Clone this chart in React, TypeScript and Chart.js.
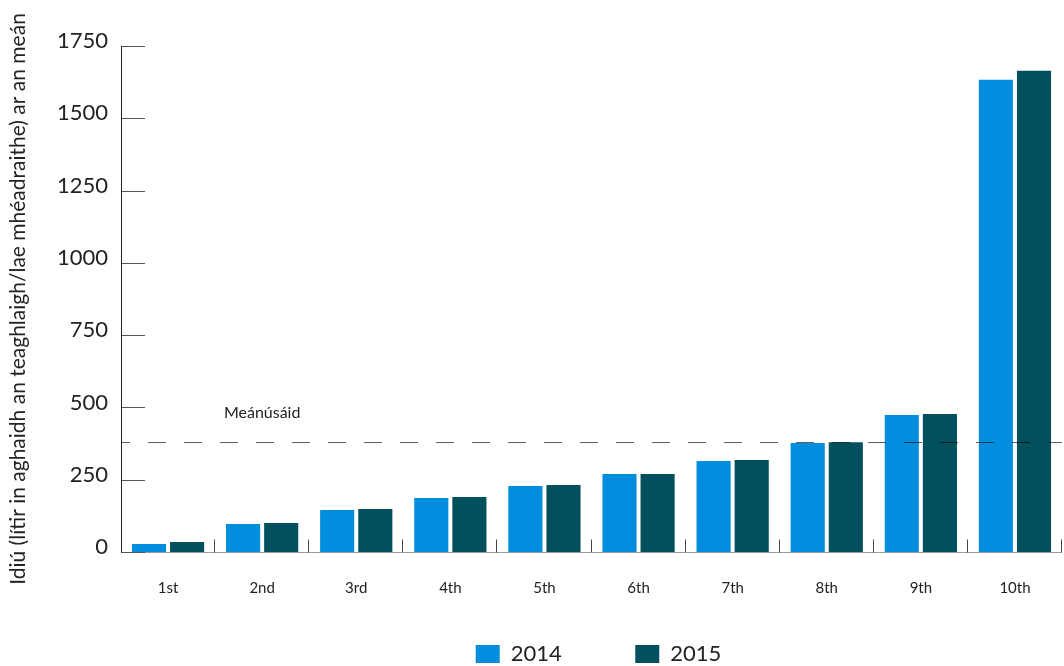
import React, { useEffect, useRef } from "react";
import { Chart, registerables } from "chart.js";

Chart.register(...registerables);

const categories = ["1st", "2nd", "3rd", "4th", "5th", "6th", "7th", "8th", "9th", "10th"];
const values2014 = [28, 97, 145, 187, 228, 270, 315, 377, 474, 1633];
const values2015 = [35, 100, 149, 190, 232, 270, 318, 380, 477, 1664];
const seriesNames = ["2014", "2015"];
const meanUsage = 380;
const meanLabel = "Meánúsáid";
const yTicks = [0, 250, 500, 750, 1000, 1250, 1500, 1750];
const yTitle = "Idiú (lítir in aghaidh an teaghlaigh/lae mhéadraithe) ar an meán";

const FONT = "Lato, 'Open Sans', sans-serif";

const axisPlugin = {
  id: "customAxes",
  afterLayout(chart: any) {
    const lg = chart.legend;
    if (!lg) return;
    lg.top = chart.chartArea.bottom + 17.5;
    lg.bottom = chart.height;
    lg.height = lg.bottom - lg.top;
    lg.left += 7;
    lg.right += 7;
  },
  afterDatasetsDraw(chart: any) {
    const { ctx, chartArea } = chart;
    const x = chart.scales.x;
    const y = chart.scales.y;
    ctx.save();
    // mean dashed line
    const my = Math.round(y.getPixelForValue(meanUsage)) + 0.5;
    ctx.strokeStyle = "rgba(0,0,0,0.62)";
    ctx.lineWidth = 1;
    ctx.setLineDash([18, 18]);
    ctx.lineDashOffset = 9;
    ctx.beginPath();
    ctx.moveTo(chartArea.left, my);
    ctx.lineTo(chartArea.right, my);
    ctx.stroke();
    ctx.setLineDash([]);
    ctx.fillStyle = "#222";
    ctx.font = "16px " + FONT;
    ctx.textAlign = "center";
    ctx.textBaseline = "middle";
    ctx.fillText(meanLabel, x.getPixelForValue(1), my - 30);

    // x axis line
    const by = Math.round(chartArea.bottom) + 0.5;
    ctx.strokeStyle = "#9a9a9a";
    ctx.lineWidth = 1;
    ctx.beginPath();
    ctx.moveTo(chartArea.left, by);
    ctx.lineTo(chartArea.right, by);
    ctx.stroke();
    // x ticks at category boundaries
    ctx.strokeStyle = "#444";
    const n = categories.length;
    const step = (chartArea.right - chartArea.left) / n;
    for (let i = 1; i <= n; i++) {
      const px = Math.round(chartArea.left + i * step) - 0.5;
      ctx.beginPath();
      ctx.moveTo(px, by - 13);
      ctx.lineTo(px, by);
      ctx.stroke();
    }
    // y ticks
    ctx.strokeStyle = "#555";
    for (const v of yTicks) {
      const py = Math.round(y.getPixelForValue(v)) + 0.5;
      ctx.beginPath();
      ctx.moveTo(chartArea.left, py);
      ctx.lineTo(chartArea.left + 24, py);
      ctx.stroke();
    }
    // y axis line
    const lx = Math.round(chartArea.left) + 0.5;
    ctx.strokeStyle = "#222";
    ctx.beginPath();
    ctx.moveTo(lx, chartArea.top);
    ctx.lineTo(lx, by);
    ctx.stroke();
    ctx.restore();
  },
};

export default function App() {
  const ref = useRef<HTMLCanvasElement>(null);
  useEffect(() => {
    if (!ref.current) return;
    const chart = new Chart(ref.current, {
      type: "bar",
      data: {
        labels: categories,
        datasets: [
          { label: seriesNames[0], data: values2014, backgroundColor: "#008ddd", borderWidth: 0 },
          { label: seriesNames[1], data: values2015, backgroundColor: "#024f5e", borderWidth: 0 },
        ],
      },
      options: {
        responsive: false,
        animation: false,
        events: [],
        layout: { padding: { left: 0, right: 2, top: 46, bottom: 0 } },
        datasets: { bar: { categoryPercentage: 0.81, barPercentage: 0.895 } },
        plugins: {
          tooltip: { enabled: false },
          legend: {
            position: "bottom",
            fullSize: false,
            maxHeight: 69,
            labels: {
              boxWidth: 24,
              boxHeight: 18,
              padding: 73.5,
              color: "#222",
              font: { family: FONT, size: 22 },
            },
          },
        },
        scales: {
          x: {
            grid: { display: false, drawTicks: false },
            border: { display: false },
            ticks: { color: "#222", font: { family: FONT, size: 15 }, padding: 27 },
            afterFit(scale: any) {
              scale.height = 45;
            },
          },
          y: {
            min: 0,
            max: 1750,
            afterBuildTicks(scale: any) {
              scale.ticks = yTicks.map((v) => ({ value: v }));
            },
            grid: { display: false, drawTicks: false },
            border: { display: false },
            ticks: {
              color: "#222",
              font: { family: FONT, size: 22 },
              padding: 13,
              labelOffset: -5,
              callback: (v: any) => String(v),
            },
            title: {
              display: true,
              text: yTitle,
              color: "#222",
              font: { family: FONT, size: 21 },
              padding: { top: 6, bottom: 0 },
            },
            afterFit(scale: any) {
              scale.width = 121;
            },
          },
        },
      },
      plugins: [axisPlugin],
    });
    return () => chart.destroy();
  }, []);
  return (
    <div style={{ position: "absolute", left: 0, top: 0, width: 1064, height: 666, background: "#fff" }}>
      <canvas ref={ref} width={1064} height={666} style={{ display: "block" }} />
    </div>
  );
}
